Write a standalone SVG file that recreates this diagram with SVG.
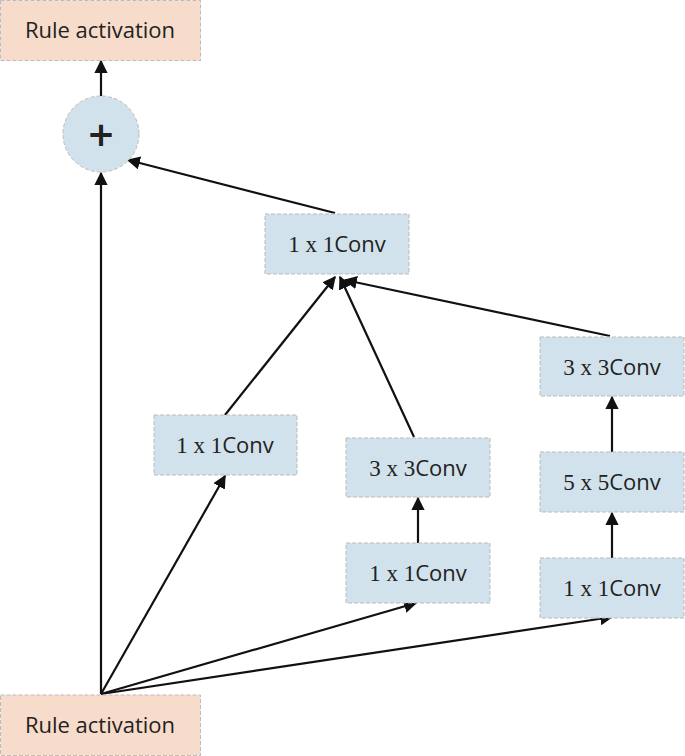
<svg xmlns="http://www.w3.org/2000/svg" width="685" height="756" viewBox="0 0 685 756">
<style>
.r{fill:#f8dccb;stroke:#bbb;stroke-dasharray:4 2;stroke-width:1}
.b{fill:#d2e2ec;stroke:#bbb;stroke-dasharray:4 2;stroke-width:1}
.t{font-family:"Open Sans","DejaVu Sans",sans-serif;font-size:22px;fill:#222;text-anchor:middle}
.m{font-family:"Liberation Serif","DejaVu Serif",serif;font-size:23px}
.c line{stroke:#111;stroke-width:2.2;marker-end:url(#a)}
</style>
<defs><marker id="a" viewBox="0 0 10 10" refX="9" refY="5" markerWidth="6" markerHeight="6" markerUnits="strokeWidth" orient="auto"><path d="M0,0L10,5L0,10z" fill="#111"/></marker></defs>
<g class="c">
<line x1="101" y1="96" x2="101" y2="61"/>
<line x1="101" y1="694" x2="101" y2="173"/>
<line x1="335" y1="213" x2="128" y2="160"/>
<line x1="225" y1="415" x2="335" y2="277"/>
<line x1="414" y1="437" x2="340" y2="277"/>
<line x1="610" y1="336" x2="345" y2="280"/>
<line x1="101" y1="694" x2="225" y2="476"/>
<line x1="101" y1="694" x2="416" y2="603"/>
<line x1="101" y1="694" x2="612" y2="617"/>
<line x1="418" y1="543" x2="418" y2="498"/>
<line x1="612" y1="558" x2="612" y2="513"/>
<line x1="612" y1="452" x2="612" y2="397"/>
</g>
<g id="out"><rect class="r" x="0.5" y="0.5" width="200" height="60"/><text class="t" x="100" y="38">Rule activation</text></g>
<g id="add"><circle class="b" cx="101" cy="134" r="38"/><text x="101" y="146" text-anchor="middle" font-family="DejaVu Sans,sans-serif" font-weight="bold" font-size="34" fill="#222">+</text></g>
<g id="in"><rect class="r" x="0.5" y="695" width="200" height="60.5"/><text class="t" x="100" y="733">Rule activation</text></g>
<g id="c0"><rect class="b" x="265" y="214" width="144" height="60"/><text class="t" x="337" y="252"><tspan class="m">1 x 1</tspan>Conv</text></g>
<g id="c1"><rect class="b" x="154" y="415" width="143" height="60"/><text class="t" x="225" y="453"><tspan class="m">1 x 1</tspan>Conv</text></g>
<g id="c2"><rect class="b" x="346" y="438" width="144" height="59"/><text class="t" x="418" y="476"><tspan class="m">3 x 3</tspan>Conv</text></g>
<g id="c3"><rect class="b" x="346" y="543" width="144" height="60"/><text class="t" x="418" y="581"><tspan class="m">1 x 1</tspan>Conv</text></g>
<g id="c4"><rect class="b" x="540" y="337" width="144" height="59"/><text class="t" x="612" y="375"><tspan class="m">3 x 3</tspan>Conv</text></g>
<g id="c5"><rect class="b" x="540" y="452" width="144" height="60"/><text class="t" x="612" y="490"><tspan class="m">5 x 5</tspan>Conv</text></g>
<g id="c6"><rect class="b" x="540" y="558" width="144" height="60"/><text class="t" x="612" y="596"><tspan class="m">1 x 1</tspan>Conv</text></g>
</svg>
